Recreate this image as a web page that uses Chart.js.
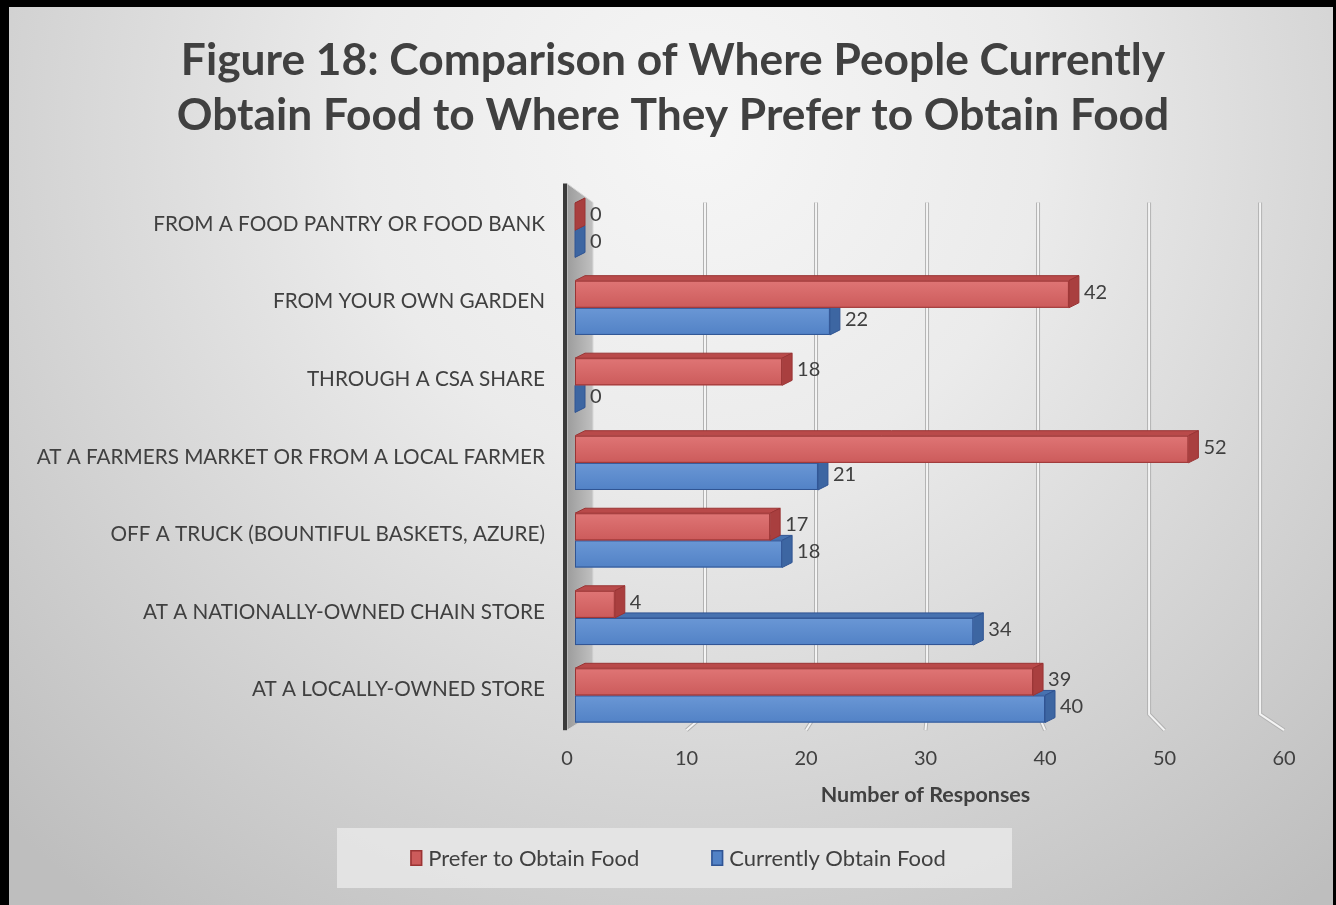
<!DOCTYPE html>
<html>
<head>
<meta charset="utf-8">
<script src="https://cdn.jsdelivr.net/npm/chart.js@4.4.1/dist/chart.umd.min.js"></script>
<style>
  html, body { margin: 0; padding: 0; background: #fff; }
</style>
</head>
<body>
<canvas id="foodChart" width="1336" height="905"></canvas>
<script>
const categories = [
  'FROM A FOOD PANTRY OR FOOD BANK',
  'FROM YOUR OWN GARDEN',
  'THROUGH A CSA SHARE',
  'AT A FARMERS MARKET OR FROM A LOCAL FARMER',
  'OFF A TRUCK (BOUNTIFUL BASKETS, AZURE)',
  'AT A NATIONALLY-OWNED CHAIN STORE',
  'AT A LOCALLY-OWNED STORE'
];
const preferValues = [0, 42, 18, 52, 17, 4, 39];
const currentValues = [0, 22, 0, 21, 18, 34, 40];
const xTicks = [0, 10, 20, 30, 40, 50, 60];
const seriesNames = ['Prefer to Obtain Food', 'Currently Obtain Food'];
const titleLines = ['Figure 18: Comparison of Where People Currently', 'Obtain Food to Where They Prefer to Obtain Food'];

// colours for the box faces of each series (red = prefer, blue = currently)
const palette = [
  { front: ['#df7575', '#cc5b5b'], top: '#b94a4a', side: '#a93f3f', edge: '#9a3434' },
  { front: ['#6a97d5', '#5282c6'], top: '#4772b0', side: '#3d66a2', edge: '#305493' }
];

const textColor = '#404040';
const fontFamily = 'Lato, "Open Sans", sans-serif';
Chart.defaults.font.family = fontFamily;
Chart.defaults.color = textColor;

const depthX = 10, depthY = 5, wallInset = 8;

// background, frame and the two-line heading
const backdrop = {
  id: 'backdrop',
  beforeDraw(chart) {
    const ctx = chart.ctx, w = chart.width, h = chart.height;
    ctx.save();
    ctx.fillStyle = '#000';
    ctx.fillRect(0, 0, w, h);
    const g = ctx.createRadialGradient(700, 130, 0, 700, 130, 980);
    g.addColorStop(0, '#f6f6f6');
    g.addColorStop(0.35, '#ebebeb');
    g.addColorStop(1, '#bebebe');
    ctx.fillStyle = g;
    ctx.fillRect(9, 7, w - 12, h - 7);

    ctx.font = 'bold 44.3px ' + fontFamily;
    ctx.fillStyle = textColor;
    ctx.textAlign = 'center';
    ctx.textBaseline = 'alphabetic';
    ctx.fillText(titleLines[0], 673, 75);
    ctx.fillText(titleLines[1], 673, 130);
    ctx.restore();
  }
};

// side wall and gridlines of the 3d plot
const wallAndGrid = {
  id: 'wallAndGrid',
  beforeDatasetsDraw(chart) {
    const ctx = chart.ctx, a = chart.chartArea, xs = chart.scales.x;
    const backX = v => a.left + 27 + (xs.getPixelForValue(v) - a.left) * 0.929;
    const backTop = a.top + 11, backBottom = a.bottom - 20, frontBottom = a.bottom - 4;
    ctx.save();
    // wall
    const wg = ctx.createLinearGradient(a.left, 0, a.left + 27, 0);
    wg.addColorStop(0, '#9c9c9c');
    wg.addColorStop(1, '#c2c2c2');
    ctx.beginPath();
    ctx.moveTo(a.left, a.top - 8);
    ctx.lineTo(a.left + 26, backTop);
    ctx.lineTo(a.left + 26, backBottom);
    ctx.lineTo(a.left, frontBottom);
    ctx.closePath();
    ctx.fillStyle = wg;
    ctx.fill();
    ctx.strokeStyle = '#d8d8d8';
    ctx.lineWidth = 1;
    ctx.stroke();
    ctx.fillStyle = '#3a3a3a';
    ctx.fillRect(a.left - 4, a.top - 8, 4, frontBottom - a.top + 8);
    // gridlines
    xTicks.forEach(v => {
      if (v === 0) return;
      const bx = backX(v), fx = xs.getPixelForValue(v);
      ctx.beginPath();
      ctx.moveTo(bx, backTop);
      ctx.lineTo(bx, backBottom);
      ctx.lineTo(fx, frontBottom);
      ctx.lineJoin = 'round';
      ctx.strokeStyle = '#b2b2b2';
      ctx.lineWidth = 4;
      ctx.stroke();
      ctx.strokeStyle = '#f4f4f4';
      ctx.lineWidth = 2;
      ctx.stroke();
    });
    ctx.restore();
  }
};

function drawBox(ctx, x0, x1, top, bottom, c) {
  ctx.strokeStyle = c.edge;
  ctx.lineWidth = 1;
  // top face
  ctx.beginPath();
  ctx.moveTo(x0, top);
  ctx.lineTo(x0 + depthX, top - depthY);
  ctx.lineTo(x1 + depthX, top - depthY);
  ctx.lineTo(x1, top);
  ctx.closePath();
  ctx.fillStyle = c.top;
  ctx.fill();
  ctx.stroke();
  // end face
  ctx.beginPath();
  ctx.moveTo(x1, top);
  ctx.lineTo(x1 + depthX, top - depthY);
  ctx.lineTo(x1 + depthX, bottom - depthY);
  ctx.lineTo(x1, bottom);
  ctx.closePath();
  ctx.fillStyle = c.side;
  ctx.fill();
  ctx.stroke();
  // front face
  if (x1 > x0) {
    const g = ctx.createLinearGradient(0, top, 0, bottom);
    g.addColorStop(0, c.front[0]);
    g.addColorStop(1, c.front[1]);
    ctx.fillStyle = g;
    ctx.fillRect(x0, top, x1 - x0, bottom - top);
    ctx.strokeRect(x0 + 0.5, top + 0.5, x1 - x0 - 1, bottom - top - 1);
  }
}

// bars drawn as boxes, blue first so the red bar sits in front of its top face
const boxes = {
  id: 'boxes',
  afterDatasetsDraw(chart) {
    const ctx = chart.ctx;
    const metas = [chart.getDatasetMeta(0), chart.getDatasetMeta(1)];
    ctx.save();
    categories.forEach((_, i) => {
      [1, 0].forEach(d => {
        const p = metas[d].data[i].getProps(['x', 'y', 'base', 'height'], true);
        const x0 = p.base + wallInset;
        const x1 = Math.max(p.x, x0);
        drawBox(ctx, x0, x1, p.y - p.height / 2, p.y + p.height / 2, palette[d]);
      });
    });
    // value labels
    ctx.font = '20px ' + fontFamily;
    ctx.fillStyle = textColor;
    ctx.textAlign = 'left';
    ctx.textBaseline = 'middle';
    metas.forEach((meta, d) => {
      meta.data.forEach((el, i) => {
        const p = el.getProps(['x', 'y', 'base'], true);
        const x1 = Math.max(p.x, p.base + wallInset);
        ctx.fillText(String(chart.data.datasets[d].data[i]), x1 + depthX + 5, p.y - 2);
      });
    });
    ctx.restore();
  }
};

// legend panel under the axis title
const legendPanel = {
  id: 'legendPanel',
  afterDraw(chart) {
    const ctx = chart.ctx;
    const cx = chart.width / 2, cy = chart.height - 47;
    ctx.save();
    ctx.fillStyle = 'rgba(232,232,232,0.85)';
    ctx.fillRect(cx - 331, cy - 30, 675, 60);
    ctx.font = '22px ' + fontFamily;
    ctx.textBaseline = 'middle';
    ctx.textAlign = 'left';
    const boxW = 12, boxH = 16, gapIn = 6, gapOut = 72;
    const widths = seriesNames.map(s => ctx.measureText(s).width);
    const total = widths.reduce((s, w) => s + boxW + gapIn + w, 0) + gapOut;
    let x = cx + 10 - total / 2;
    seriesNames.forEach((name, d) => {
      ctx.fillStyle = palette[d].front[1];
      ctx.fillRect(x, cy - boxH / 2, boxW, boxH);
      ctx.strokeStyle = palette[d].edge;
      ctx.lineWidth = 1.5;
      ctx.strokeRect(x + 0.75, cy - boxH / 2 + 0.75, boxW - 1.5, boxH - 1.5);
      ctx.fillStyle = textColor;
      ctx.fillText(name, x + boxW + gapIn, cy + 1);
      x += boxW + gapIn + widths[d] + gapOut;
    });
    ctx.restore();
  }
};

new Chart(document.getElementById('foodChart'), {
  type: 'bar',
  data: {
    labels: categories,
    datasets: [
      { label: seriesNames[0], data: preferValues, backgroundColor: 'rgba(0,0,0,0)', borderWidth: 0 },
      { label: seriesNames[1], data: currentValues, backgroundColor: 'rgba(0,0,0,0)', borderWidth: 0 }
    ]
  },
  options: {
    indexAxis: 'y',
    responsive: false,
    animation: false,
    devicePixelRatio: 1,
    categoryPercentage: 0.7,
    barPercentage: 1,
    layout: { padding: { left: 0, right: 52, top: 191.5, bottom: 91 } },
    plugins: {
      legend: { display: false },
      tooltip: { enabled: false },
      title: { display: false }
    },
    scales: {
      x: {
        min: 0,
        max: 60,
        afterBuildTicks(scale) { scale.ticks = xTicks.map(v => ({ value: v })); },
        grid: { display: false, drawTicks: false },
        border: { display: false },
        ticks: { color: textColor, font: { size: 20 }, padding: 12 },
        title: {
          display: true,
          text: 'Number of Responses',
          color: textColor,
          font: { size: 21.5, weight: 'bold' },
          padding: { top: 0, bottom: 6 }
        }
      },
      y: {
        afterFit(scale) { scale.width = 567; },
        grid: { display: false, drawTicks: false },
        border: { display: false },
        ticks: { color: textColor, font: { size: 20.7 }, padding: 22, labelOffset: -6 }
      }
    }
  },
  plugins: [backdrop, wallAndGrid, boxes, legendPanel]
});
</script>
</body>
</html>
